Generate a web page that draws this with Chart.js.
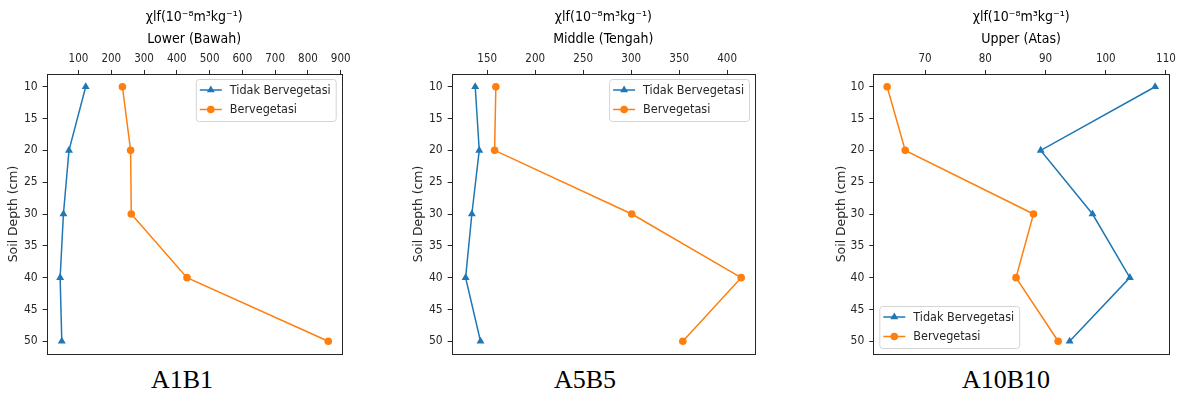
<!DOCTYPE html>
<html>
<head>
<meta charset="utf-8">
<script src="https://cdn.jsdelivr.net/npm/chart.js@4"></script>
<style>
  body { margin: 0; background: #fff; width: 1180px; height: 397px; position: relative; overflow: hidden; }
  canvas { position: absolute; top: 0; }
  .lbl { position: absolute; top: 367px; font-family: "Liberation Serif", "Times New Roman", serif; font-size: 26px; line-height: 26px; color: #000; transform: translateX(-50%); white-space: nowrap; }
</style>
</head>
<body>
<canvas id="c1" width="350" height="360" style="left:0px"></canvas>
<canvas id="c2" width="370" height="360" style="left:400px"></canvas>
<canvas id="c3" width="360" height="360" style="left:820px"></canvas>
<div class="lbl" style="left:182px">A1B1</div>
<div class="lbl" style="left:585px">A5B5</div>
<div class="lbl" style="left:1006px">A10B10</div>
<script>
// data
const depth = [10, 20, 30, 40, 50];
const depthTicks = [10, 15, 20, 25, 30, 35, 40, 45, 50];

const lowerTidak = [122, 71, 54, 44, 49];
const lowerBer = [234, 259, 261, 431, 862];
const lowerTicks = [100, 200, 300, 400, 500, 600, 700, 800, 900];

const middleTidak = [137.5, 141.7, 134, 127.5, 143];
const middleBer = [159, 157.7, 300.6, 414.6, 353.8];
const middleTicks = [150, 200, 250, 300, 350, 400];

const upperTidak = [108.2, 89.2, 97.8, 104.0, 94.0];
const upperBer = [63.7, 66.7, 88.0, 85.1, 92.1];
const upperTicks = [70, 80, 90, 100, 110];

const unitTitle = "χlf(10⁻⁸m³kg⁻¹)";
const seriesNames = ["Tidak Bervegetasi", "Bervegetasi"];

const BLUE = "#1f77b4";
const ORANGE = "#ff7f0e";
const INK = "#262626";

// reference text is narrow, use the condensed face if it is there
function hasFont(name) {
  const c = document.createElement("canvas").getContext("2d");
  const s = "Tidak Bervegetasi 0123456789";
  c.font = "40px monospace";
  const a = c.measureText(s).width;
  c.font = "40px '" + name + "', monospace";
  return Math.abs(c.measureText(s).width - a) > 0.5;
}
const FONT = "'DejaVu Sans', sans-serif";
const NARROW = hasFont("DejaVu Sans Condensed") ? "'DejaVu Sans Condensed', 'DejaVu Sans', sans-serif" : FONT;

function pts(xs) {
  return xs.map((v, i) => ({ x: v, y: depth[i] }));
}

// frame + legend drawn inside the plot box
const boxPlugin = {
  id: "box",
  afterDatasetsDraw(chart) {
    const { ctx, chartArea: a } = chart;
    ctx.save();
    ctx.strokeStyle = INK;
    ctx.lineWidth = 1;
    ctx.strokeRect(Math.round(a.left) + 0.5, Math.round(a.top) + 0.5, Math.round(a.right - a.left), Math.round(a.bottom - a.top));

    const where = chart.options.plugins.box.where;
    ctx.font = "12.5px " + NARROW;
    let tw = 0;
    chart.data.datasets.forEach(d => { tw = Math.max(tw, ctx.measureText(d.label).width); });
    const w = 4 + 22 + 8 + tw + 5;
    const h = 42;
    let x0, y0;
    if (where === "ur") { x0 = a.right - 6 - w; y0 = a.top + 5; }
    else { x0 = a.left + 6; y0 = a.bottom - 6 - h; }
    ctx.fillStyle = "rgba(255,255,255,0.85)";
    ctx.strokeStyle = "#d4d4d4";
    ctx.beginPath();
    ctx.roundRect(x0 + 0.5, y0 + 0.5, w, h, 3);
    ctx.fill();
    ctx.stroke();
    chart.data.datasets.forEach((d, i) => {
      const cy = y0 + 11 + i * 19.5;
      ctx.strokeStyle = d.borderColor;
      ctx.lineWidth = 1.5;
      ctx.beginPath();
      ctx.moveTo(x0 + 4, cy);
      ctx.lineTo(x0 + 26, cy);
      ctx.stroke();
      ctx.fillStyle = d.borderColor;
      const mx = x0 + 15;
      ctx.beginPath();
      if (d.pointStyle === "triangle") {
        const r = d.pointRadius;
        ctx.moveTo(mx, cy - r);
        ctx.lineTo(mx + r * 0.866, cy + r * 0.5);
        ctx.lineTo(mx - r * 0.866, cy + r * 0.5);
        ctx.closePath();
      } else {
        ctx.arc(mx, cy, d.pointRadius, 0, Math.PI * 2);
      }
      ctx.fill();
      ctx.fillStyle = INK;
      ctx.textBaseline = "middle";
      ctx.textAlign = "left";
      ctx.fillText(d.label, x0 + 34, cy + 0.5);
    });
    ctx.restore();
  }
};

function makeChart(id, name, tidak, ber, xMin, xMax, xTicks, yWidth, padRight, titlePad, legendWhere) {
  return new Chart(document.getElementById(id), {
    type: "line",
    data: {
      datasets: [
        {
          label: seriesNames[0],
          data: pts(tidak),
          borderColor: BLUE,
          backgroundColor: BLUE,
          borderWidth: 1.5,
          pointStyle: "triangle",
          pointRadius: 4.6,
          pointBorderWidth: 0,
        },
        {
          label: seriesNames[1],
          data: pts(ber),
          borderColor: ORANGE,
          backgroundColor: ORANGE,
          borderWidth: 1.5,
          pointStyle: "circle",
          pointRadius: 3.8,
          pointBorderWidth: 0,
        },
      ],
    },
    options: {
      responsive: false,
      animation: false,
      devicePixelRatio: 1,
      layout: { padding: { left: 0, right: padRight, top: 0, bottom: 6 } },
      plugins: {
        legend: { display: false },
        tooltip: { enabled: false },
        box: { where: legendWhere },
      },
      scales: {
        x: {
          type: "linear",
          position: "top",
          min: xMin,
          max: xMax,
          afterBuildTicks: s => { s.ticks = xTicks.map(v => ({ value: v })); },
          afterFit: s => { s.height = 74; s.paddingLeft = 0; s.paddingRight = 0; },
          grid: { drawOnChartArea: false, drawTicks: true, tickLength: 4, color: INK, lineWidth: 1 },
          border: { display: false },
          ticks: { color: INK, font: { family: NARROW, size: 11.5 }, padding: 4.5, maxRotation: 0 },
          title: {
            display: true,
            text: [unitTitle, name],
            color: "#000",
            font: { family: NARROW, size: 14, lineHeight: 1.63 },
            padding: { top: 5.5, bottom: 0 },
          },
        },
        y: {
          type: "linear",
          reverse: true,
          min: 8,
          max: 52,
          afterBuildTicks: s => { s.ticks = depthTicks.map(v => ({ value: v })); },
          afterFit: s => { s.width = yWidth; s.paddingTop = 0; s.paddingBottom = 0; },
          grid: { drawOnChartArea: false, drawTicks: true, tickLength: 4, color: INK, lineWidth: 1 },
          border: { display: false },
          ticks: { color: INK, font: { family: NARROW, size: 12 }, padding: 5 },
          title: {
            display: true,
            text: "Soil Depth (cm)",
            color: INK,
            font: { family: FONT, size: 12.4, lineHeight: 1.2 },
            padding: { top: titlePad, bottom: 0 },
          },
        },
      },
    },
    plugins: [boxPlugin],
  });
}

makeChart("c1", "Lower (Bawah)", lowerTidak, lowerBer, 3, 903, lowerTicks, 46.7, 8.3, 6.6, "ur");
makeChart("c2", "Middle (Tengah)", middleTidak, middleBer, 113, 429, middleTicks, 51.7, 15, 11.6, "ur");
makeChart("c3", "Upper (Atas)", upperTidak, upperBer, 61.4, 110.5, upperTicks, 53.3, 11, 14.3, "ll");
</script>
</body>
</html>
